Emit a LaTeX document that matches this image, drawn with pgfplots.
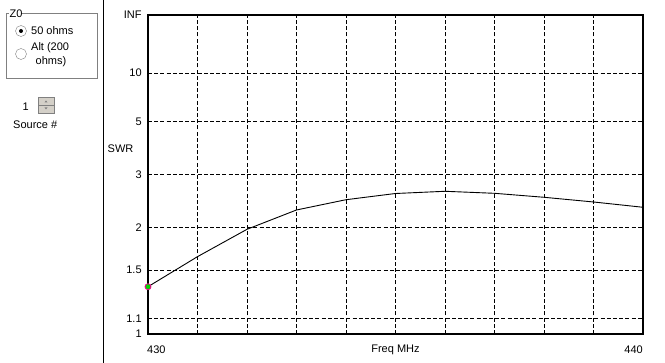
\documentclass[border=0pt]{standalone}
\usepackage{pgfplots}
\pgfplotsset{compat=1.18}
\usepackage{fontspec}
\setmainfont{Liberation Sans}
\definecolor{btngray}{RGB}{212,208,200}
\definecolor{boxgray}{RGB}{128,128,128}
\begin{document}
\fontsize{11}{13}\selectfont
\begin{tikzpicture}[x=1pt,y=1pt]
\useasboundingbox (0,0) rectangle (665,363);
% left panel
\draw[boxgray, line width=1pt] (6,349) -- (6,284) -- (97,284) -- (97,349) -- cycle;
\fill[white] (9,343) rectangle (21,355);
\node[anchor=west, inner sep=0pt] at (9.5,349) {Z0};
\draw[boxgray, fill=white] (21,332) circle (5.5);
\fill[black] (21,332) circle (2);
\node[anchor=west, inner sep=0pt] at (31,332) {50 ohms};
\draw[boxgray, fill=white] (21,309) circle (5.5);
\node[anchor=west, inner sep=0pt] at (31,315) {Alt (200};
\node[anchor=west, inner sep=0pt] at (35.5,301) {ohms)};
\node[anchor=east, inner sep=0pt] at (29,256) {1};
\draw[boxgray, fill=btngray] (38,258) rectangle (54,266);
\draw[boxgray, fill=btngray] (38,250) rectangle (54,258);
\fill[gray] (44.5,260.5) -- (47.5,260.5) -- (46,262.5) -- cycle;
\fill[gray] (44.5,255.5) -- (47.5,255.5) -- (46,253.5) -- cycle;
\node[anchor=west, inner sep=0pt] at (13,238) {Source \#};
\draw[black, line width=1pt] (103,0) -- (103,363);
% chart
\begin{axis}[
  at={(148pt,29pt)}, anchor=south west,
  scale only axis, width=495pt, height=319pt,
  xmin=430, xmax=440, ymin=0, ymax=1,
  xtick={430,...,440}, xticklabels={},
  ytick={0,0.047619,0.2,0.333333,0.5,0.666667,0.818182,1},
  yticklabels={1,1.1,1.5,2,3,5,10,INF},
  major tick length=0pt,
  grid=major,
  major grid style={black, line width=0.9pt, dash pattern=on 4pt off 2.2pt},
  axis line style={black, line width=1.2pt},
  tick label style={font=\fontsize{11}{13}\selectfont, /pgf/number format/assume math mode=true},
  yticklabel style={xshift=-2.5pt},
  y filter/.expression={(y-1)/(y+1)},
  clip=false,
]
\addplot[black, line width=0.9pt, mark=none] coordinates {
 (430,1.348) (431,1.640) (432,1.977) (433,2.272) (434,2.454) (435,2.574)
 (436,2.619) (437,2.578) (438,2.500) (439,2.412) (440,2.318)
};
\addplot[only marks, mark=*, mark size=3pt, mark options={fill=green!85!black, draw=magenta, line width=0.8pt}] coordinates {(430,1.348)};
\end{axis}
\node[anchor=west, inner sep=0pt] at (147,13) {430};
\node[anchor=east, inner sep=0pt] at (643,13) {440};
\node[inner sep=0pt] at (395.5,13) {Freq MHz};
\node[anchor=west, inner sep=0pt] at (107.5,214) {SWR};
\end{tikzpicture}
\end{document}
